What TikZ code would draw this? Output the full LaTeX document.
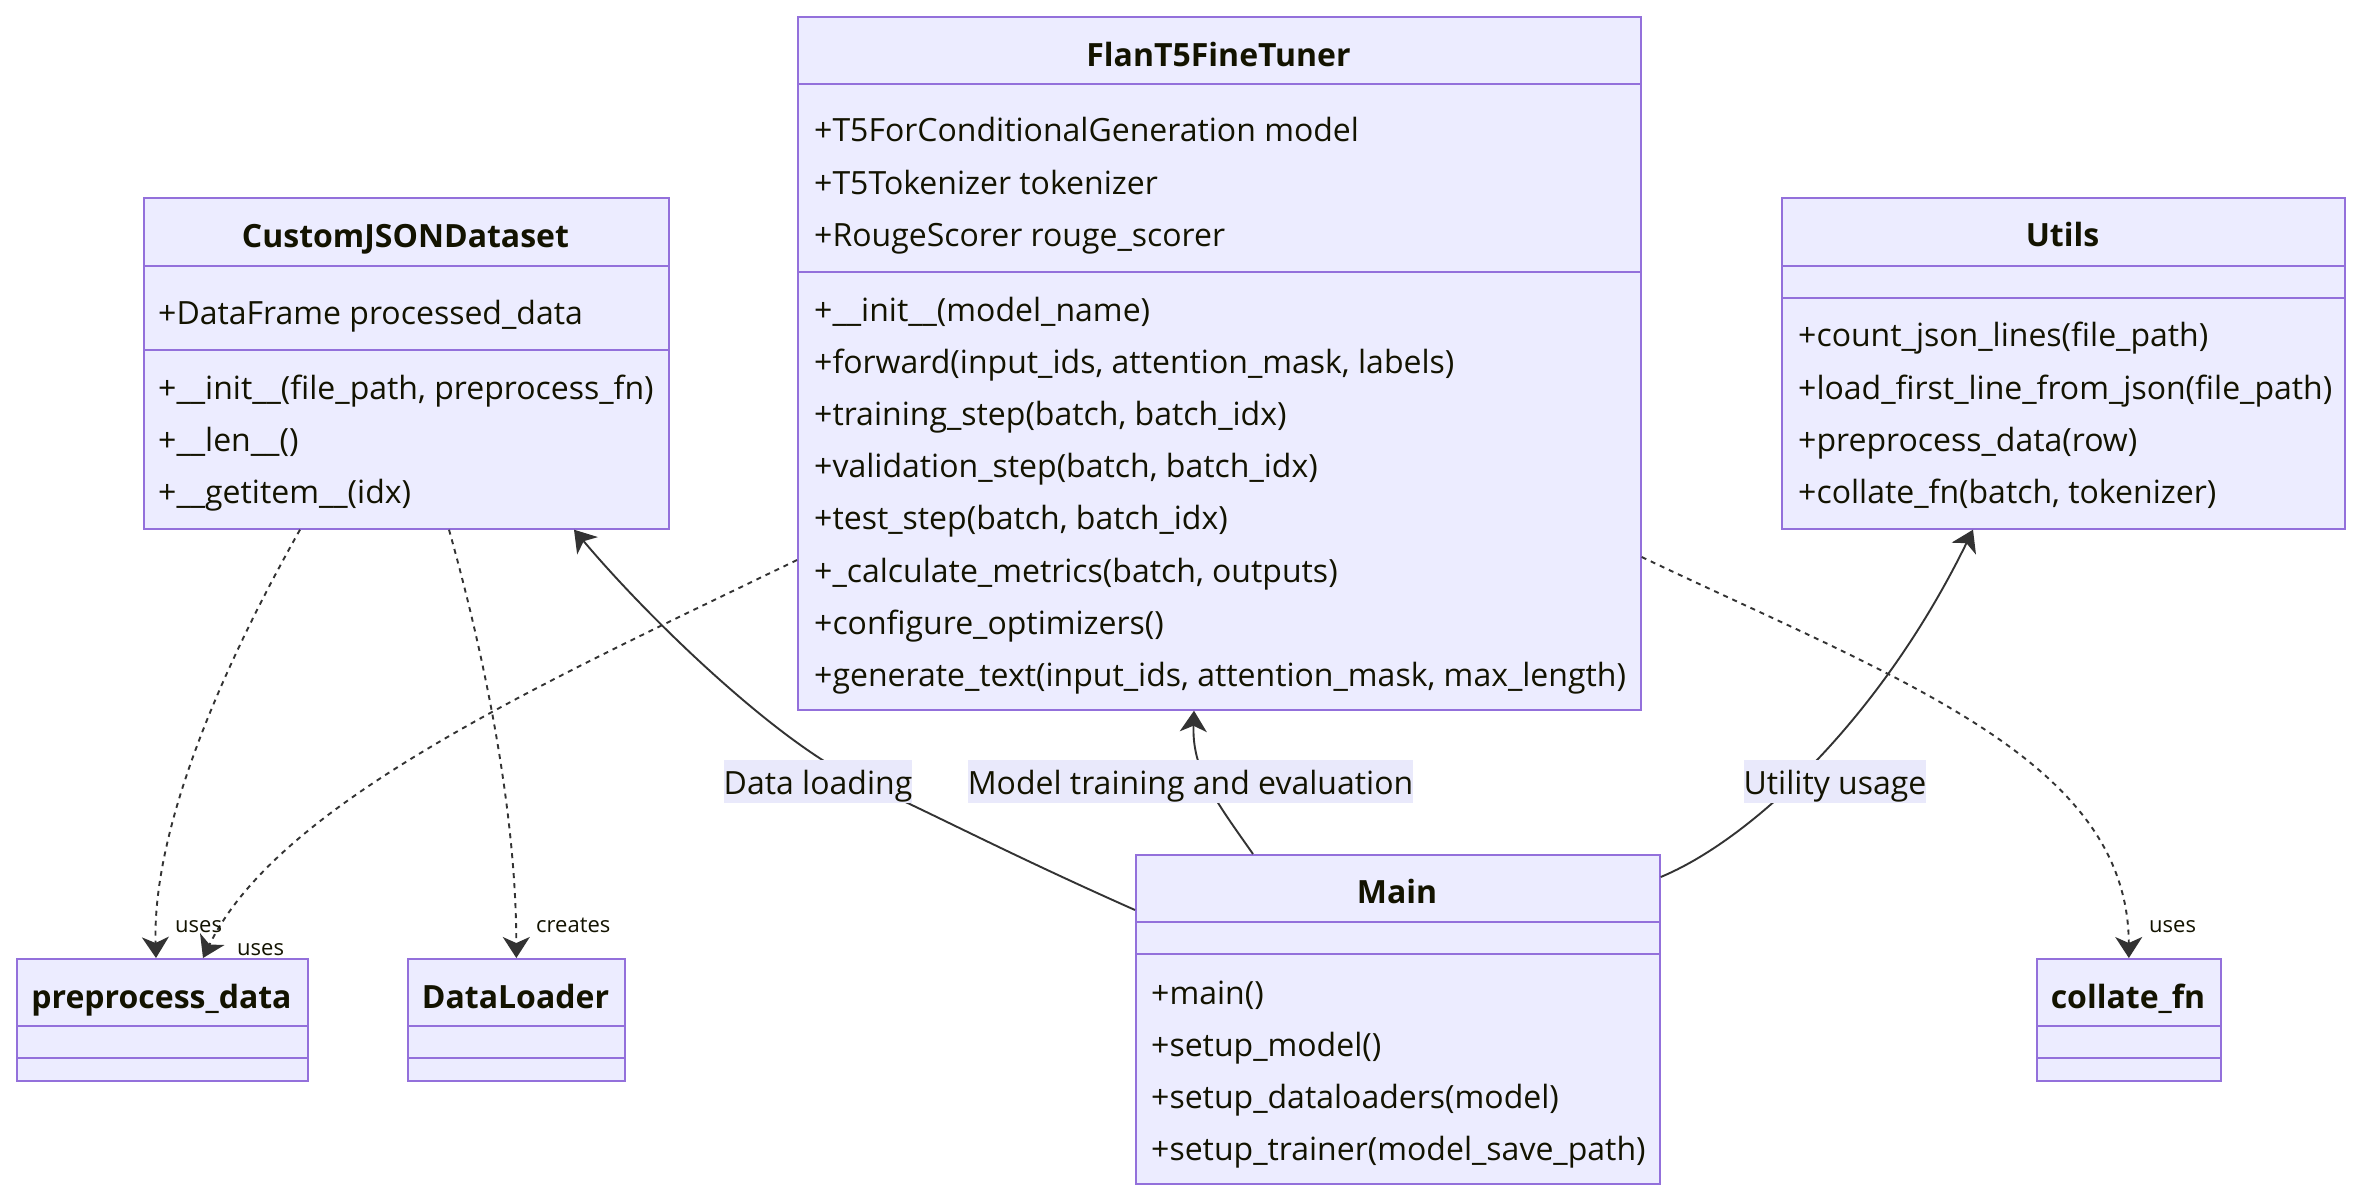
\documentclass[tikz,border=0pt]{standalone}
\usepackage{fontspec}
\setmainfont{Open Sans}
\usetikzlibrary{arrows.meta,calc}
\definecolor{boxfill}{HTML}{ECECFF}
\definecolor{boxline}{HTML}{9370DB}
\definecolor{edgec}{HTML}{333333}
\definecolor{txt}{HTML}{131300}
\definecolor{lblbg}{HTML}{E9E9FB}
\tikzset{
  classbox/.style={draw=boxline, fill=boxfill, line width=1.7pt, rectangle, inner sep=0pt, anchor=north west},
  divline/.style={draw=boxline, line width=1.7pt},
  member/.style={anchor=base west, inner sep=0pt, text=txt, font=\fontsize{32}{38}\selectfont},
  ctitle/.style={anchor=base, inner sep=0pt, text=txt, font=\fontsize{32}{38}\selectfont\bfseries},
  rel/.style={draw=edgec, line width=1.9pt},
  tipc/.tip={Stealth[length=21pt,width=27pt,inset=6pt]},
  dep/.style={rel, dash pattern=on 5pt off 5pt, -tipc},
  assoc/.style={rel, -tipc},
  elabel/.style={fill=lblbg, inner sep=0pt, text height=34pt, text depth=9pt, anchor=base, text=txt, font=\fontsize{32}{38}\selectfont},
  small/.style={anchor=base west, inner sep=0pt, text=txt, font=\fontsize{22}{26}\selectfont},
}
\begin{document}
\begin{tikzpicture}[x=1pt,y=-1pt]
\fill[white] (0,0) rectangle (2360,1200);
\useasboundingbox (0,0) rectangle (2360,1200);

% ---------- class boxes ----------
\node[classbox, minimum width=525pt, minimum height=331pt] (cj) at (143,197) {};
\draw[divline] (143,266) -- (668,266);
\draw[divline] (143,350) -- (668,350);
\node[ctitle] (cjt) at (405.5,247) {CustomJSONDataset};
\node[member] (cja1) at (158,324) {+DataFrame processed\_data};
\node[member] (cjm1) at (158,399) {+\_\_init\_\_(file\_path, preprocess\_fn)};
\node[member] (cjm2) at (158,451) {+\_\_len\_\_()};
\node[member] (cjm3) at (158,503) {+\_\_getitem\_\_(idx)};

\node[classbox, minimum width=843pt, minimum height=693pt] (ft) at (797,16) {};
\draw[divline] (797,84) -- (1640,84);
\draw[divline] (797,272) -- (1640,272);
\node[ctitle] (ftt) at (1218.5,66.5) {FlanT5FineTuner};
\node[member] (fta1) at (814,141) {+T5ForConditionalGeneration model};
\node[member] (fta2) at (814,194) {+T5Tokenizer tokenizer};
\node[member] (fta3) at (814,246) {+RougeScorer rouge\_scorer};
\node[member] (ftm1) at (814,321) {+\_\_init\_\_(model\_name)};
\node[member] (ftm2) at (814,373) {+forward(input\_ids, attention\_mask, labels)};
\node[member] (ftm3) at (814,425) {+training\_step(batch, batch\_idx)};
\node[member] (ftm4) at (814,477) {+validation\_step(batch, batch\_idx)};
\node[member] (ftm5) at (814,529) {+test\_step(batch, batch\_idx)};
\node[member] (ftm6) at (814,582) {+\_calculate\_metrics(batch, outputs)};
\node[member] (ftm7) at (814,634) {+configure\_optimizers()};
\node[member] (ftm8) at (814,686) {+generate\_text(input\_ids, attention\_mask, max\_length)};

\node[classbox, minimum width=563pt, minimum height=331pt] (ut) at (1781,197) {};
\draw[divline] (1781,266) -- (2344,266);
\draw[divline] (1781,298) -- (2344,298);
\node[ctitle] (utt) at (2062.5,246) {Utils};
\node[member] (utm1) at (1798,346) {+count\_json\_lines(file\_path)};
\node[member] (utm2) at (1798,399) {+load\_first\_line\_from\_json(file\_path)};
\node[member] (utm3) at (1798,451) {+preprocess\_data(row)};
\node[member] (utm4) at (1798,503) {+collate\_fn(batch, tokenizer)};

\node[classbox, minimum width=524pt, minimum height=329pt] (mn) at (1135,854) {};
\draw[divline] (1135,922) -- (1659,922);
\draw[divline] (1135,954) -- (1659,954);
\node[ctitle] (mnt) at (1397,903) {Main};
\node[member] (mnm1) at (1151,1004) {+main()};
\node[member] (mnm2) at (1151,1056) {+setup\_model()};
\node[member] (mnm3) at (1151,1108) {+setup\_dataloaders(model)};
\node[member] (mnm4) at (1151,1160) {+setup\_trainer(model\_save\_path)};

\node[classbox, minimum width=291pt, minimum height=122pt] (pp) at (16,958) {};
\draw[divline] (16,1026) -- (307,1026);
\draw[divline] (16,1058) -- (307,1058);
\node[ctitle] (ppt) at (161.5,1008) {preprocess\_data};

\node[classbox, minimum width=217pt, minimum height=122pt] (dl) at (407,958) {};
\draw[divline] (407,1026) -- (624,1026);
\draw[divline] (407,1058) -- (624,1058);
\node[ctitle] (dlt) at (515.5,1008) {DataLoader};

\node[classbox, minimum width=184pt, minimum height=122pt] (cf) at (2036,958) {};
\draw[divline] (2036,1026) -- (2220,1026);
\draw[divline] (2036,1058) -- (2220,1058);
\node[ctitle] (cft) at (2128,1008) {collate\_fn};

% ---------- connector end points ----------
\coordinate (cjS1) at ($(cj.south west)+(157,0)$);
\coordinate (cjS2) at ($(cj.south west)+(306,0)$);
\coordinate (cjS3) at ($(cj.south west)+(431,0)$);
\coordinate (ppN1) at ($(pp.north west)+(140,0)$);
\coordinate (ppN2) at ($(pp.north west)+(187,0)$);
\coordinate (dlN) at (dl.north);
\coordinate (cfN) at (cf.north);
\coordinate (ftW) at ($(ft.north west)+(0,544)$);
\coordinate (ftE) at ($(ft.north east)+(0,541)$);
\coordinate (ftS) at ($(ft.south west)+(397,0)$);
\coordinate (utS) at ($(ut.south west)+(192,0)$);
\coordinate (mnW) at ($(mn.north west)+(0,56)$);
\coordinate (mnN) at ($(mn.north west)+(118,0)$);
\coordinate (mnE) at ($(mn.north east)+(0,23)$);
\coordinate (dlc) at (862,782);

% ---------- dependencies ----------
\draw[dep] (cjS1) .. controls (232,650) and (152,820) .. (ppN1);
\draw[dep] (cjS2) .. controls (480,640) and (516,800) .. (dlN);
\draw[dep] (ftW) .. controls (550,680) and (280,800) .. (ppN2);
\draw[dep] (ftE) .. controls (1900,680) and (2128,760) .. (cfN);

% ---------- associations ----------
\draw[assoc] (mnW) .. controls (1000,850) and (930,812) .. (dlc) .. controls (780,745) and (650,620) .. (cjS3);
\draw[assoc] (mnN) .. controls (1215,800) and (1192,770) .. (ftS);
\draw[assoc] (mnE) .. controls (1750,840) and (1880,720) .. (utS);

% ---------- labels ----------
\node[elabel] (l1) at (818,794) {Data loading};
\node[elabel] (l2) at (1190.5,794) {Model training and evaluation};
\node[elabel] (l3) at (1835,794) {Utility usage};
\node[small] (s1) at (175,932) {uses};
\node[small] (s2) at (237,955) {uses};
\node[small] (s3) at (536,932) {creates};
\node[small] (s4) at (2149,932) {uses};
\end{tikzpicture}
\end{document}
